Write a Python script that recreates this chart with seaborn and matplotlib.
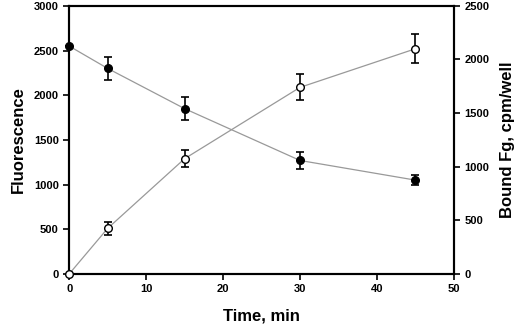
import numpy as np
import pandas as pd
import matplotlib
matplotlib.use("Agg")
import matplotlib.pyplot as plt
import seaborn as sns

# data
time_min = [0, 5, 15, 30, 45]
fluorescence = [2550, 2300, 1850, 1270, 1050]
fluorescence_err = [0, 130, 130, 100, 60]
bound_fg = [0, 425, 1075, 1740, 2100]
bound_fg_err = [0, 60, 80, 120, 135]

sns.set_style("ticks", {'axes.edgecolor': 'black', 'text.color': 'black',
                        'axes.labelcolor': 'black', 'xtick.color': 'black',
                        'ytick.color': 'black'})
plt.rcParams['font.family'] = ['Liberation Sans', 'DejaVu Sans']
plt.rcParams['font.weight'] = 'bold'

df = pd.DataFrame({'time': time_min, 'fluor': fluorescence, 'fg': bound_fg})

fig, ax = plt.subplots(figsize=(5.2, 3.25), dpi=100)
fig.subplots_adjust(left=0.133, right=0.873, bottom=0.157, top=0.982)
ax2 = ax.twinx()

# filled circles: fluorescence (left axis)
sns.lineplot(data=df, x='time', y='fluor', ax=ax, color='#999999', linewidth=0.9, zorder=1)
ax.errorbar(time_min, fluorescence, yerr=fluorescence_err, fmt='o', color='black',
            markersize=5.5, capsize=3, elinewidth=1.2, capthick=1.2, zorder=3,
            clip_on=False)

# open circles: bound Fg (right axis)
sns.lineplot(data=df, x='time', y='fg', ax=ax2, color='#999999', linewidth=0.9, zorder=1)
ax2.errorbar(time_min, bound_fg, yerr=bound_fg_err, fmt='o', color='black', mfc='white',
             markersize=5.5, capsize=3, elinewidth=1.2, capthick=1.2, zorder=3,
             clip_on=False)

ax.set_xlim(0, 50)
ax.set_ylim(0, 3000)
ax2.set_ylim(0, 2500)
ax.set_xticks([0, 10, 20, 30, 40, 50])
ax.set_yticks(np.arange(0, 3001, 500))
ax2.set_yticks(np.arange(0, 2501, 500))

ax.set_xlabel('Time, min', fontsize=12, fontweight='bold', color='black', labelpad=10)
ax.set_ylabel('Fluorescence', fontsize=12, fontweight='bold', labelpad=6, color='black')
ax2.set_ylabel('Bound Fg, cpm/well', fontsize=12, fontweight='bold', labelpad=8, color='black')

for a in (ax, ax2):
    a.tick_params(labelsize=8, width=1.2, length=4, direction='out', colors='black')
    for lbl in a.get_xticklabels() + a.get_yticklabels():
        lbl.set_fontweight('bold')
    for s in a.spines.values():
        s.set_linewidth(1.5)
        s.set_color('black')
        s.set_visible(True)

plt.savefig('out.png', dpi=100)
